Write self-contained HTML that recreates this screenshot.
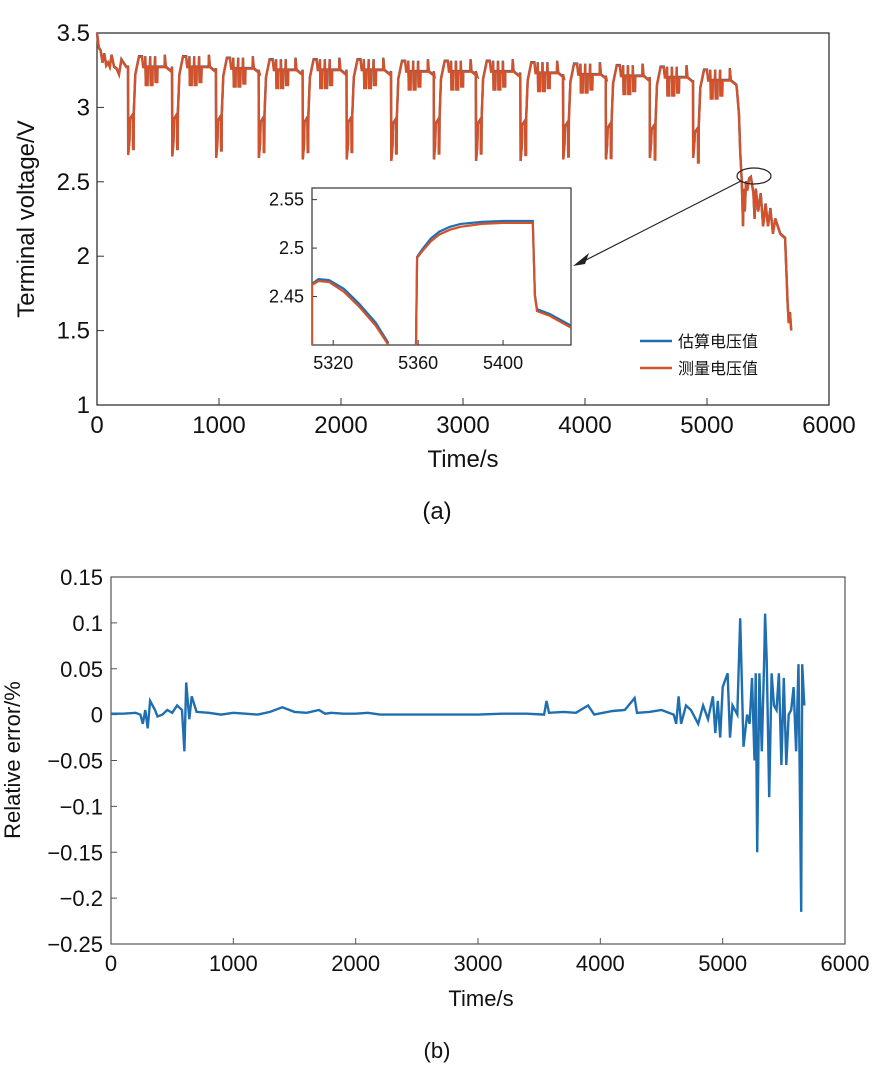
<!DOCTYPE html>
<html><head><meta charset="utf-8">
<style>
body{margin:0;background:#fff;width:876px;height:1086px;overflow:hidden;font-family:"Liberation Sans","Noto Sans CJK SC",sans-serif}
svg text{font-family:"Liberation Sans","Noto Sans CJK SC",sans-serif;fill:#111}
</style></head>
<body>
<svg id="s" width="876" height="1086" xmlns="http://www.w3.org/2000/svg"></svg>
<script>
// ---- Chart (a) data ----
const cycleStart=[254,615,975,1325,1685,2045,2410,2760,3105,3470,3820,4170,4530,4885];
const cycleTop=[3.27,3.27,3.26,3.25,3.25,3.25,3.24,3.24,3.24,3.23,3.22,3.21,3.2,3.18];
const cycleMin=[2.68,2.67,2.66,2.66,2.65,2.65,2.64,2.65,2.64,2.64,2.65,2.65,2.66,2.66];
const headT=[0,15,30,45,60,75,90,105,120,140,160,180,200,240,253];
const headV=[3.5,3.4,3.38,3.3,3.36,3.28,3.3,3.27,3.35,3.27,3.26,3.22,3.32,3.27,3.27];
const tailT=[5245,5262,5272,5285,5295,5300,5310,5320,5330,5345,5360,5380,5390,5400,5420,5440,5460,5480,5500,5520,5540,5560,5600,5640,5660,5670,5680,5690];
const tailV=[3.12,2.95,2.7,2.5,2.2,2.45,2.3,2.5,2.44,2.52,2.53,2.42,2.25,2.45,2.3,2.42,2.2,2.35,2.2,2.32,2.15,2.25,2.15,2.12,1.7,1.55,1.62,1.5];
const yTicksA=[1,1.5,2,2.5,3,3.5];
const xTicks=[0,1000,2000,3000,4000,5000,6000];
// inset data
const insTA=[5310,5313,5318,5325,5332,5340,5346];
const insVMeas=[2.462,2.466,2.465,2.455,2.44,2.42,2.4];
const insVEst=[2.463,2.468,2.467,2.458,2.443,2.423,2.402];
const insTB=[5359,5359.5,5362,5366,5370,5375,5380,5390,5400,5414,5415,5416,5422,5432];
const insVMeasB=[2.4,2.49,2.497,2.507,2.514,2.519,2.522,2.525,2.526,2.526,2.45,2.435,2.43,2.418];
const insVEstB=[2.4,2.491,2.499,2.51,2.517,2.522,2.525,2.527,2.528,2.528,2.452,2.437,2.432,2.42];
const insXTicks=[5320,5360,5400];
const insYTicks=[2.45,2.5,2.55];
// ---- Chart (b) data ----
const errT=[0,100,200,240,260,280,300,320,340,360,380,420,460,500,540,580,600,615,640,660,700,800,900,1000,1100,1200,1300,1400,1500,1600,1700,1750,1800,1900,2000,2100,2200,2500,2800,3000,3200,3400,3540,3560,3580,3700,3800,3900,3950,4100,4200,4280,4300,4400,4500,4600,4620,4640,4660,4700,4740,4800,4840,4880,4920,4940,4960,4980,5000,5040,5060,5080,5120,5143,5170,5200,5220,5240,5260,5270,5282,5300,5320,5340,5347,5360,5380,5400,5420,5440,5460,5480,5500,5520,5540,5560,5580,5600,5620,5642,5650,5667];
const errV=[0.001,0.001,0.002,0.0,-0.01,0.005,-0.015,0.015,0.01,0.005,-0.002,0.0,0.005,0.002,0.01,0.005,-0.04,0.035,-0.005,0.02,0.003,0.002,0.0,0.002,0.001,0.0,0.003,0.008,0.003,0.002,0.005,0.001,0.002,0.001,0.001,0.002,0.0,0.0,0.0,0.0,0.001,0.001,0.0,0.015,0.002,0.003,0.002,0.01,0.0,0.004,0.005,0.018,0.002,0.003,0.005,0.0,-0.01,0.02,-0.01,0.01,0.005,-0.01,0.01,-0.005,0.02,-0.02,0.015,-0.025,0.03,0.045,-0.025,0.01,0.0,0.105,-0.035,0.0,-0.01,0.04,-0.05,0.045,-0.15,0.045,-0.04,0.065,0.11,0.06,-0.09,0.045,0.01,0.005,0.045,-0.055,0.04,-0.055,0.0,0.005,0.03,-0.04,0.055,-0.215,0.055,0.01];
const yTicksB=[-0.25,-0.2,-0.15,-0.1,-0.05,0,0.05,0.1,0.15];

const NS="http://www.w3.org/2000/svg";
const svg=document.getElementById('s');
function mk(tag,attrs,parent){const e=document.createElementNS(NS,tag);for(const k in attrs)e.setAttribute(k,attrs[k]);(parent||svg).appendChild(e);return e;}
function txt(x,y,s,size,anchor,parent){const t=mk('text',{x:x,y:y,'font-size':size,'text-anchor':anchor||'middle'},parent);t.textContent=s;return t;}

// Chart a axes
const A={l:97,r:829,t:33,b:405,x0:0,x1:6000,y0:1,y1:3.5};
const ax=t=>A.l+(t-A.x0)/(A.x1-A.x0)*(A.r-A.l);
const ay=v=>A.b-(v-A.y0)/(A.y1-A.y0)*(A.b-A.t);
const gA=mk('g',{});


const frA=mk('rect',{x:A.l,y:A.t,width:A.r-A.l,height:A.b-A.t,fill:'none',stroke:'#333','stroke-width':1.3},gA);


yTicksA.forEach(v=>{const y=ay(v);mk('line',{x1:A.l,x2:A.l+7,y1:y,y2:y,stroke:'#333'},gA);const t=txt(A.l-7,y+8,String(v),24,'end',gA);});
xTicks.forEach(v=>{const x=ax(v);mk('line',{x1:x,x2:x,y1:A.b,y2:A.b-7,stroke:'#333'},gA);const t=txt(x,A.b+28,String(v),24,'middle',gA);});
const xtA=txt(463,467,'Time/s',24,'middle',gA);


const ytA=txt(0,0,'Terminal voltage/V',24,'middle',gA);ytA.setAttribute('transform','translate(34,219) rotate(-90)');


const capA=txt(437,519,'(a)',24,'middle',gA);



// build voltage series
let P=[];
headT.forEach((t,i)=>P.push([t,headV[i]]));
cycleStart.forEach((t0,i)=>{const T=cycleTop[i],m=cycleMin[i];
 const seq=[[0,T],[2,m],[12,m+0.1],[16,T-0.35],[40,T-0.32],[42,T-0.55],[46,T-0.55],[48,T-0.3],[60,T-0.05],[90,T+0.07],[115,T+0.07],[125,T],[140,T],[142,T+0.07],[146,T-0.12],[160,T-0.12],[162,T],[180,T],[182,T+0.07],[186,T-0.12],[200,T-0.12],[202,T],[220,T],[222,T+0.07],[226,T-0.1],[240,T-0.1],[242,T],[300,T],[302,T+0.08],[310,T],[355,T-0.03]];
 seq.forEach(p=>P.push([t0+p[0],p[1]]));});
tailT.forEach((t,i)=>P.push([t,tailV[i]]));
const dA=P.map((p,i)=>(i?'L':'M')+ax(p[0]).toFixed(1)+' '+ay(p[1]).toFixed(1)).join('');
const dAe=P.map((p,i)=>(i?'L':'M')+ax(p[0]).toFixed(1)+' '+(ay(p[1])-0.6).toFixed(1)).join('');
const le=mk('path',{d:dAe,fill:'none',stroke:'#1f6fb0','stroke-width':2.4},gA);


const lm=mk('path',{d:dA,fill:'none',stroke:'#d4522a','stroke-width':2.4},gA);


// ellipse & arrow
const el=mk('ellipse',{cx:754,cy:176,rx:17,ry:8,fill:'none',stroke:'#222','stroke-width':1.2},gA);


const ar=mk('line',{x1:741,y1:181,x2:582,y2:262,stroke:'#222','stroke-width':1.2},gA);


mk('path',{d:'M573 266 L589 253 L585 264 Z',fill:'#222'},gA);

// inset
const I={l:312,r:571,t:188,b:345,x0:5310,x1:5432,y0:2.4,y1:2.562};
const ix=t=>I.l+(t-I.x0)/(I.x1-I.x0)*(I.r-I.l);
const iy=v=>I.b-(v-I.y0)/(I.y1-I.y0)*(I.b-I.t);
const gI=mk('g',{},gA);


mk('rect',{x:I.l,y:I.t,width:I.r-I.l,height:I.b-I.t,fill:'#fff',stroke:'#333','stroke-width':1.2},gI);
insXTicks.forEach(v=>{const x=ix(v);mk('line',{x1:x,x2:x,y1:I.b,y2:I.b-5,stroke:'#333'},gI);const t=txt(x,I.b+24,String(v),18,'middle',gI);});
insYTicks.forEach(v=>{const y=iy(v);mk('line',{x1:I.l,x2:I.l+5,y1:y,y2:y,stroke:'#333'},gI);const t=txt(I.l-8,y+6,String(v),18,'end',gI);});
const cp=mk('clipPath',{id:'ic'},gI);
mk('rect',{x:I.l,y:I.t,width:I.r-I.l,height:I.b-I.t},cp);
function ipath(T,V){return T.map((t,i)=>(i?'L':'M')+ix(t).toFixed(1)+' '+iy(V[i]).toFixed(1)).join('');}
const dEst='M'+ix(5310).toFixed(1)+' '+I.b+ipath(insTA,insVEst).replace(/^M/,'L')+ipath(insTB,insVEstB);
const dMea='M'+ix(5310).toFixed(1)+' '+I.b+ipath(insTA,insVMeas).replace(/^M/,'L')+ipath(insTB,insVMeasB);
const ie=mk('path',{d:dEst,fill:'none',stroke:'#1f6fb0','stroke-width':2.2,'clip-path':'url(#ic)'},gI);


const im=mk('path',{d:dMea,fill:'none',stroke:'#d4522a','stroke-width':2.2,'clip-path':'url(#ic)'},gI);


// legend
const gL=mk('g',{},gA);


mk('line',{x1:640,x2:672,y1:341,y2:341,stroke:'#1f6fb0','stroke-width':2.5},gL);
const l1=txt(678,347,'估算电压值',16,'start',gL);


mk('line',{x1:640,x2:672,y1:368,y2:368,stroke:'#d4522a','stroke-width':2.5},gL);
const l2=txt(678,374,'测量电压值',16,'start',gL);



// Chart b
const B={l:111,r:845,t:577,b:944,x0:0,x1:6000,y0:-0.25,y1:0.15};
const bx=t=>B.l+(t-B.x0)/(B.x1-B.x0)*(B.r-B.l);
const by=v=>B.b-(v-B.y0)/(B.y1-B.y0)*(B.b-B.t);
const gB=mk('g',{});


const frB=mk('rect',{x:B.l,y:B.t,width:B.r-B.l,height:B.b-B.t,fill:'none',stroke:'#555','stroke-width':1.2},gB);


yTicksB.forEach(v=>{const y=by(v);mk('line',{x1:B.l,x2:B.l+6,y1:y,y2:y,stroke:'#555'},gB);const t=txt(B.l-8,y+8,String(v).replace('-','−'),22,'end',gB);});
xTicks.forEach(v=>{const x=bx(v);mk('line',{x1:x,x2:x,y1:B.b,y2:B.b-6,stroke:'#555'},gB);const t=txt(x,B.b+27,String(v),22,'middle',gB);});
const xtB=txt(481,1006,'Time/s',22,'middle',gB);


const ytB=txt(0,0,'Relative error/%',22,'middle',gB);ytB.setAttribute('transform','translate(20,760) rotate(-90)');


const capB=txt(437,1058,'(b)',22,'middle',gB);


const dB=errT.map((t,i)=>(i?'L':'M')+bx(t).toFixed(1)+' '+by(errV[i]).toFixed(1)).join('');
const lb=mk('path',{d:dB,fill:'none',stroke:'#1f6fb0','stroke-width':2.4},gB);


</script>
</body></html>
